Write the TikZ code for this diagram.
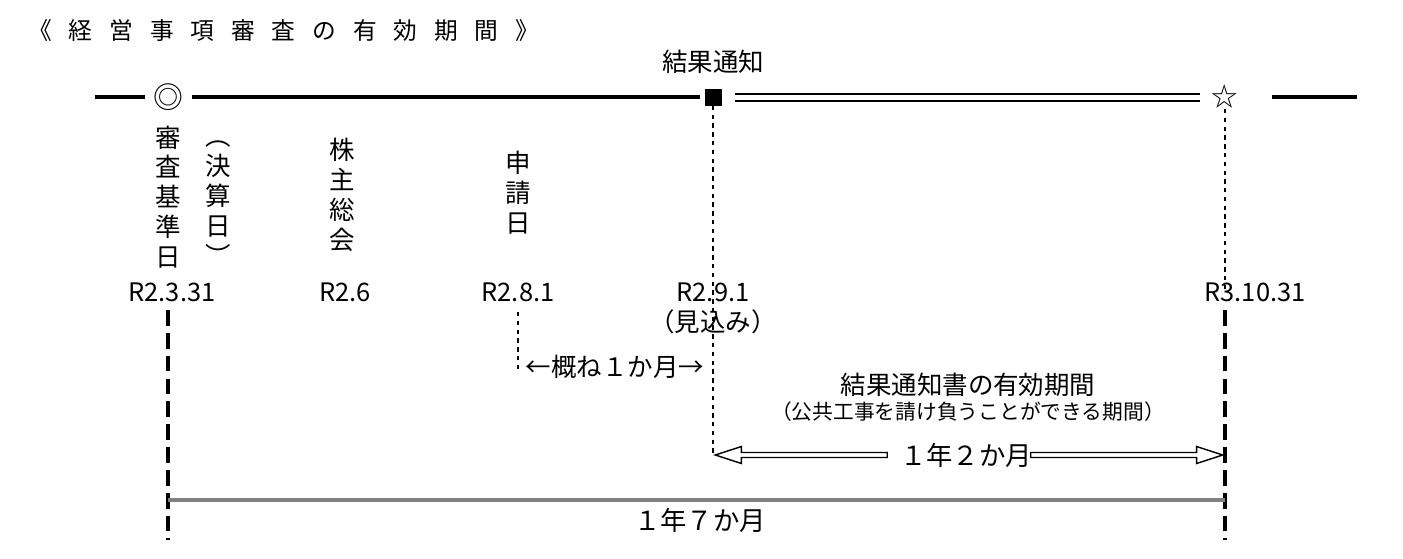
\documentclass[tikz,border=0pt]{standalone}
\usepackage{fontspec}
\setmainfont{Noto Sans CJK JP}
\usetikzlibrary{positioning,calc,shapes.arrows}

\begin{document}
\begin{tikzpicture}[
    x=0.02cm, y=-0.02cm,
    txt/.style={font=\fontsize{14.5}{16}\selectfont, inner sep=0pt},
    vtxt/.style={txt, align=center, font=\fontsize{14.5}{17}\selectfont},
    small/.style={inner sep=0pt, font=\fontsize{11.8}{13}\selectfont},
    axis/.style={line width=2.6pt},
    tick/.style={line width=2.2pt, dash pattern=on 9pt off 4pt},
    dots/.style={line width=1pt, dash pattern=on 2.5pt off 2.5pt},
    bigarrow/.style={single arrow, draw, line width=0.8pt, single arrow head extend=0.12cm, single arrow tip angle=36, minimum width=0.34cm, inner sep=1pt}
]
\useasboundingbox (0,0) rectangle (1403,558);

% Title
\node[txt, anchor=west, font=\fontsize{13.5}{15}\selectfont] (title) at (28,30) {《\hspace{9.6pt}経\hspace{9.6pt}営\hspace{9.6pt}事\hspace{9.6pt}項\hspace{9.6pt}審\hspace{9.6pt}査\hspace{9.6pt}の\hspace{9.6pt}有\hspace{9.6pt}効\hspace{9.6pt}期\hspace{9.6pt}間\hspace{9.6pt}》};

% Time line
\node[txt, font=\fontsize{17}{18}\selectfont] (mkA) at (168,97) {◎};
\node[fill=black, minimum size=0.34cm, inner sep=0pt] (mkB) at (713,97) {};
\node[txt, font=\fontsize{15}{16}\selectfont] (mkC) at (1225,97) {☆};
\node[txt] (notice) at (713,62) {結果通知};
\coordinate (lineL) at (95,97);
\coordinate (lineR) at (1357,97);
\draw[axis] (lineL) -- ++(50,0);
\draw[axis] (192,97) -- (700,97);
\draw[line width=1.3pt] (735,94) -- (1200,94) (735,101) -- (1200,101);
\draw[axis] (1272,97) -- (lineR);

% Event labels
\node[vtxt] (kijun) at (168,197) {審\\査\\基\\準\\日};
\node[vtxt] (kessan) at (218,203) {︵\\決\\算\\日\\︶};
\node[vtxt] (soukai) at (342,195) {株\\主\\総\\会};
\node[vtxt] (shinsei) at (518,193) {申\\請\\日};

% Dates
\node[txt] (dA) at (172,292) {R2.3.31};
\node[txt] (dB) at (345,292) {R2.6};
\node[txt] (dC) at (518,292) {R2.8.1};
\node[txt] (dD) at (713,292) {R2.9.1};
\node[txt] (dDx) at (713,322) {（見込み）};
\node[txt] (dE) at (1255,292) {R3.10.31};

% Vertical markers
\draw[tick] (168,310) -- (168,540);
\draw[tick] (1225,310) -- (1225,540);
\draw[dots] (mkB.south) -- (713,455);
\draw[dots] (mkC.south) -- (1225,290);
\draw[dots] (518,312) -- (518,372);
\node[txt] (month) at (615,367) {←概ね１か月→};

% Validity period
\node[txt] (valid) at (968,385) {結果通知書の有効期間};
\node[small] (validsub) at (968,412) {（公共工事を請け負うことができる期間）};
\node[txt, font=\fontsize{15}{17}\selectfont] (span12) at (966,455) {１年２か月};
\node[bigarrow, shape border rotate=180, minimum height=3.44cm, anchor=tip] (arrL) at (713,455) {};
\node[bigarrow, minimum height=3.84cm, anchor=tip] (arrR) at (1225,455) {};

% Total period
\draw[line width=2.8pt, gray] (168,500) -- (1225,500);
\node[txt, font=\fontsize{15}{17}\selectfont] (span17) at (700,520) {１年７か月};
\end{tikzpicture}
\end{document}
